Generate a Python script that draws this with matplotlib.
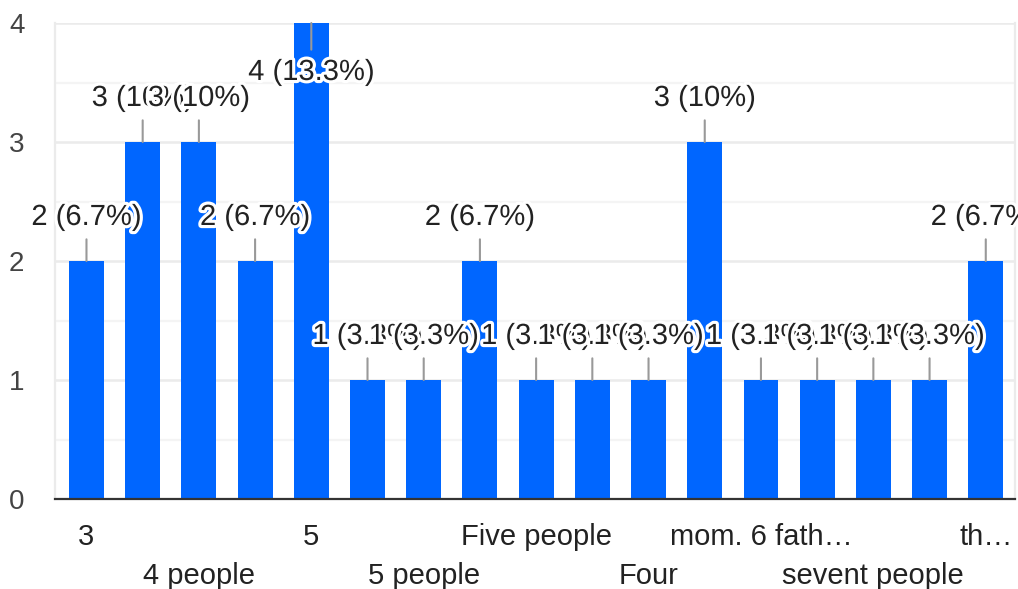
import matplotlib
matplotlib.use("Agg")
import matplotlib.pyplot as plt
import matplotlib.patheffects as pe
from matplotlib.ticker import MultipleLocator

# Survey answers (only every second label is shown by the chart)
categories = ["3", "4", "4 people", "4 persons", "5", "5 members", "5 people", "6",
              "Five people", "five", "Four", "Four people", "mom. 6 fath…", "six",
              "sevent people", "three", "th…"]
counts = [2, 3, 3, 2, 4, 1, 1, 2, 1, 1, 1, 3, 1, 1, 1, 1, 2]
y_ticks = [0, 1, 2, 3, 4]

plt.rcParams['font.family'] = ['Liberation Sans', 'DejaVu Sans']
plt.rcParams['font.size'] = 21

BAR = '#0066ff'
GRID = '#ebebeb'
MINOR = '#f4f4f4'

fig = plt.figure(figsize=(10.18, 5.89), dpi=100)
ax = fig.add_axes([55/1018, 90/589, 960/1018, 476/589])

total = sum(counts)
xs = list(range(len(counts)))
ax.bar(xs, counts, width=0.62, color=BAR, zorder=2)

ax.set_xlim(-0.56, len(counts) - 0.48)
ax.set_ylim(0, max(y_ticks))
ax.set_yticks(y_ticks)
ax.yaxis.set_minor_locator(MultipleLocator(0.5))
ax.grid(axis='y', which='major', color=GRID, lw=1.8, zorder=0)
ax.grid(axis='y', which='minor', color=MINOR, lw=1.6, zorder=0)
ax.set_xticks([])
ax.tick_params(axis='y', which='both', length=0, pad=22, labelcolor='#444444',
               labelsize=20)

ax.spines['top'].set_visible(False)
for s in ['left', 'right']:
    ax.spines[s].set_color(GRID)
    ax.spines[s].set_linewidth(1.6)
ax.spines['bottom'].set_color('#333333')
ax.spines['bottom'].set_linewidth(1.6)
ax.spines['bottom'].set_zorder(3)

# value labels with stems and white halo
halo = [pe.withStroke(linewidth=4.5, foreground='white')]
for x, v in zip(xs, counts):
    pct = f"{v / total * 100:.1f}".rstrip('0').rstrip('.')
    off = -57 if v == max(y_ticks) else 36
    ax.annotate(f"{v} ({pct}%)", xy=(x, v), xytext=(0, off), textcoords='offset pixels',
                ha='center', va='baseline', color='#222222', zorder=5,
                annotation_clip=False, path_effects=halo,
                arrowprops=dict(arrowstyle='-', color='#999999', lw=1.5,
                                shrinkA=4, shrinkB=0))

# category labels: every other bar, on two staggered rows
for i in range(0, len(categories), 2):
    row = (i // 2) % 2
    ax.annotate(categories[i], xy=(i, 0), xytext=(0, -46 - 39 * row),
                textcoords='offset pixels', ha='center', va='baseline',
                color='#222222', annotation_clip=False)

fig.savefig('out.png', dpi=100)
